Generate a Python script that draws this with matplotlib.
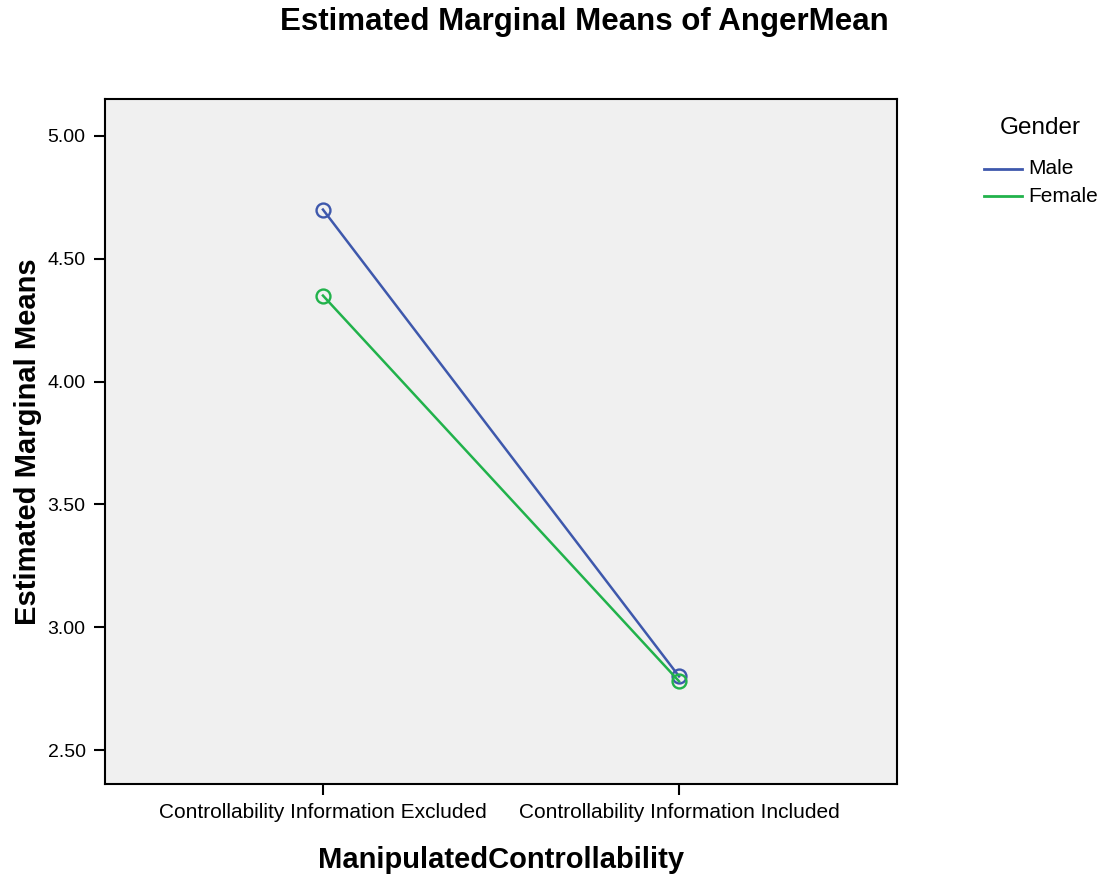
import matplotlib.pyplot as plt
from matplotlib.lines import Line2D

categories = ["Controllability Information Excluded", "Controllability Information Included"]
male = [4.70, 2.80]
female = [4.35, 2.78]
yticks = [2.50, 3.00, 3.50, 4.00, 4.50, 5.00]
groups = ["Male", "Female"]
colors = ["#3e58ac", "#21b24b"]

plt.rcParams['font.family'] = ['Liberation Sans', 'DejaVu Sans']

W, H = 1102, 880
fig = plt.figure(figsize=(W / 100, H / 100), dpi=100)
ax = fig.add_axes([105 / W, 1 - 784 / H, 792 / W, 685 / H])
ax.set_facecolor('#f0f0f0')

x = range(len(categories))
for vals, c, g in zip([male, female], colors, groups):
    ax.plot(x, vals, color=c, lw=1.8, marker='o', ms=10, mfc='none', mew=1.7, label=g)

ax.set_xlim(-0.612, 1.612)
ax.set_ylim(2.362, 5.15)
ax.set_yticks(yticks)
ax.set_yticklabels([f"{v:.2f}" for v in yticks], fontsize=14)
ax.set_xticks(list(x))
ax.set_xticklabels(categories, fontsize=15)
ax.tick_params(direction='out', length=8, width=1.5, pad=6)
for s in ax.spines.values():
    s.set_linewidth(1.5)

ax.set_xlabel('ManipulatedControllability', fontsize=21, fontweight='bold', labelpad=17)
ax.set_ylabel('Estimated Marginal Means', fontsize=21, fontweight='bold', labelpad=4)
fig.text(584 / W, 1 - 22 / H, 'Estimated Marginal Means of AngerMean', ha='center', va='center',
         fontsize=22.5, fontweight='bold')

# legend, drawn by hand to match the SPSS layout
fig.text(1040 / W, 1 - 128 / H, 'Gender', ha='center', va='center', fontsize=17.5)
for i, (c, g) in enumerate(zip(colors, groups)):
    yy = 1 - (169 + 27 * i) / H
    fig.add_artist(Line2D([984 / W, 1022 / W], [yy, yy], color=c, lw=2))
    fig.text(1028 / W, yy, g, ha='left', va='center', fontsize=15)

fig.savefig('out.png', dpi=100)
